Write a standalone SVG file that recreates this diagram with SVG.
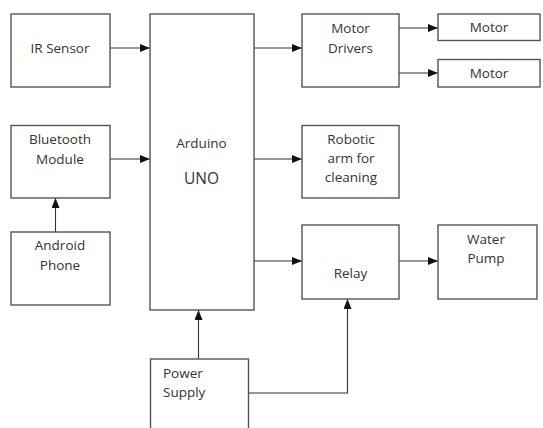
<svg xmlns="http://www.w3.org/2000/svg" width="543" height="428" viewBox="0 0 543 428">
<style>
.box{fill:#fff;stroke:#555;stroke-width:1.4}
.t{font-family:"Open Sans","Liberation Sans",sans-serif;font-size:13.5px;fill:#333;text-anchor:middle}
.l{text-anchor:start}
.c{fill:none;stroke:#333;stroke-width:1.1}
</style>
<defs>
<marker id="ah" markerWidth="10" markerHeight="8" refX="10" refY="4" orient="auto" markerUnits="userSpaceOnUse">
<path d="M0,0 L10,4 L0,8 Z" fill="#111"/>
</marker>
</defs>
<rect width="543" height="428" fill="#fff"/>
<g id="connectors">
<line class="c" x1="110" y1="48" x2="150" y2="48" marker-end="url(#ah)"/>
<line class="c" x1="110" y1="159" x2="150" y2="159" marker-end="url(#ah)"/>
<line class="c" x1="55.5" y1="232" x2="55.5" y2="198" marker-end="url(#ah)"/>
<line class="c" x1="254" y1="48" x2="302" y2="48" marker-end="url(#ah)"/>
<line class="c" x1="254" y1="159" x2="302" y2="159" marker-end="url(#ah)"/>
<line class="c" x1="254" y1="261" x2="302" y2="261" marker-end="url(#ah)"/>
<line class="c" x1="399" y1="28" x2="438" y2="28" marker-end="url(#ah)"/>
<line class="c" x1="399" y1="73" x2="438" y2="73" marker-end="url(#ah)"/>
<line class="c" x1="399" y1="261" x2="438" y2="261" marker-end="url(#ah)"/>
<line class="c" x1="198.5" y1="359" x2="198.5" y2="310" marker-end="url(#ah)"/>
<polyline class="c" points="248,393 347.5,393 347.5,299" marker-end="url(#ah)"/>
</g>
<g id="ir-sensor">
<rect class="box" x="11" y="14" width="99" height="73"/>
<text class="t" x="60" y="53">IR Sensor</text>
</g>
<g id="bluetooth">
<rect class="box" x="11" y="125.5" width="99" height="72.5"/>
<text class="t" x="60" y="144">Bluetooth</text>
<text class="t" x="60" y="164">Module</text>
</g>
<g id="android">
<rect class="box" x="11" y="232" width="99" height="73"/>
<text class="t" x="60" y="250">Android</text>
<text class="t" x="60" y="270">Phone</text>
</g>
<g id="arduino">
<rect class="box" x="150" y="14" width="104" height="296"/>
<text class="t" x="201.5" y="148">Arduino</text>
<text class="t" x="201.5" y="184" style="font-size:15.5px">UNO</text>
</g>
<g id="power-supply">
<rect class="box" x="150.5" y="359" width="98" height="80"/>
<text class="t l" x="163" y="378">Power</text>
<text class="t l" x="163" y="397">Supply</text>
</g>
<g id="motor-drivers">
<rect class="box" x="302" y="14" width="97" height="73"/>
<text class="t" x="350.5" y="33">Motor</text>
<text class="t" x="350.5" y="53">Drivers</text>
</g>
<g id="motor-1">
<rect class="box" x="438" y="14" width="102" height="26.5"/>
<text class="t" x="489" y="32">Motor</text>
</g>
<g id="motor-2">
<rect class="box" x="438" y="59.5" width="102" height="27.5"/>
<text class="t" x="489" y="78">Motor</text>
</g>
<g id="robotic-arm">
<rect class="box" x="302" y="125.5" width="97" height="72.5"/>
<text class="t" x="351" y="144">Robotic</text>
<text class="t" x="351" y="163">arm for</text>
<text class="t" x="351" y="182">cleaning</text>
</g>
<g id="relay">
<rect class="box" x="302" y="225" width="97" height="74"/>
<text class="t" x="350.5" y="278">Relay</text>
</g>
<g id="water-pump">
<rect class="box" x="438" y="225" width="99" height="74"/>
<text class="t" x="486" y="244">Water</text>
<text class="t" x="486" y="263">Pump</text>
</g>
</svg>
